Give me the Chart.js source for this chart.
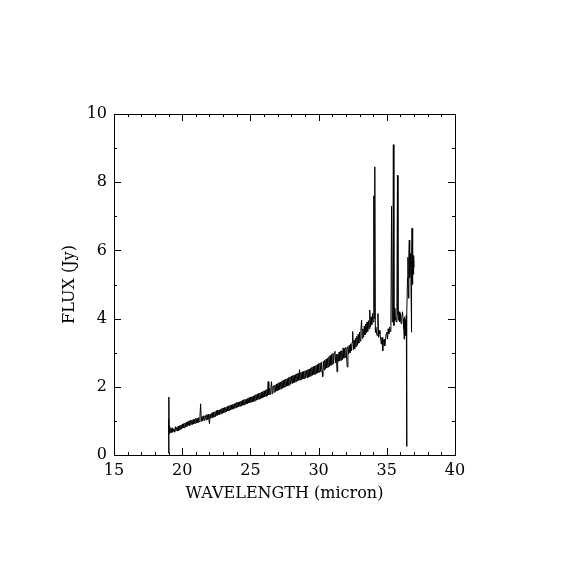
<!DOCTYPE html>
<html>
<head>
<meta charset="UTF-8">
<title>Spectrum</title>
<script src="https://cdn.jsdelivr.net/npm/chart.js"></script>
<style>
  body { margin: 0; background: #fff; }
  canvas { display: block; }
</style>
</head>
<body>
<canvas id="spec" width="570" height="570"></canvas>
<script>
// wavelength (micron) and flux (Jy)
const wavelength = [
  19.00, 19.01, 19.03, 19.05, 19.08, 19.12, 19.16,
  19.20, 19.25, 19.30, 19.35, 19.40, 19.45, 19.50, 19.55, 19.60, 19.65,
  19.70, 19.75, 19.80, 19.85, 19.90, 19.95, 20.00, 20.05, 20.10, 20.15,
  20.20, 20.25, 20.30, 20.35, 20.40, 20.45, 20.50, 20.55, 20.60, 20.65,
  20.70, 20.75, 20.80, 20.85, 20.90, 20.95, 21.00, 21.05, 21.10, 21.15,
  21.20, 21.25, 21.30, 21.35, 21.40, 21.45, 21.50, 21.55, 21.60, 21.65,
  21.70, 21.75, 21.80, 21.85, 21.90, 21.95, 22.00, 22.05, 22.10, 22.15,
  22.20, 22.25, 22.30, 22.35, 22.40, 22.45, 22.50, 22.55, 22.60, 22.65,
  22.70, 22.75, 22.80, 22.85, 22.90, 22.95, 23.00, 23.05, 23.10, 23.15,
  23.20, 23.25, 23.30, 23.35, 23.40, 23.45, 23.50, 23.55, 23.60, 23.65,
  23.70, 23.75, 23.80, 23.85, 23.90, 23.95, 24.00, 24.05, 24.10, 24.15,
  24.20, 24.25, 24.30, 24.35, 24.40, 24.45, 24.50, 24.55, 24.60, 24.65,
  24.70, 24.75, 24.80, 24.85, 24.90, 24.95, 25.00, 25.05, 25.10, 25.15,
  25.20, 25.25, 25.30, 25.35, 25.40, 25.45, 25.50, 25.55, 25.60, 25.65,
  25.70, 25.75, 25.80, 25.85, 25.90, 25.95, 26.00, 26.05, 26.10, 26.15,
  26.20, 26.25, 26.30, 26.35, 26.40, 26.45, 26.50, 26.55, 26.60, 26.65,
  26.70, 26.75, 26.80, 26.85, 26.90, 26.95, 27.00, 27.05, 27.10, 27.15,
  27.20, 27.25, 27.30, 27.35, 27.40, 27.45, 27.50, 27.55, 27.60, 27.65,
  27.70, 27.75, 27.80, 27.85, 27.90, 27.95, 28.00, 28.05, 28.10, 28.15,
  28.20, 28.25, 28.30, 28.35, 28.40, 28.45, 28.50, 28.55, 28.60, 28.65,
  28.70, 28.75, 28.80, 28.85, 28.90, 28.95, 29.00, 29.05, 29.10, 29.15,
  29.20, 29.25, 29.30, 29.35, 29.40, 29.45, 29.50, 29.55, 29.60, 29.65,
  29.70, 29.75, 29.80, 29.85, 29.90, 29.95, 30.00, 30.05, 30.10, 30.15,
  30.20, 30.25, 30.30, 30.35, 30.40, 30.45, 30.50, 30.55, 30.60, 30.65,
  30.70, 30.75, 30.80, 30.85, 30.90, 30.95, 31.00, 31.05, 31.10, 31.15,
  31.20, 31.25, 31.30, 31.35, 31.40, 31.45, 31.50, 31.55, 31.60, 31.65,
  31.70, 31.75, 31.80, 31.85, 31.90, 31.95, 32.00, 32.05, 32.10, 32.15,
  32.20, 32.25, 32.30, 32.35, 32.40, 32.45, 32.50, 32.55, 32.60, 32.65,
  32.70, 32.75, 32.80, 32.85, 32.90, 32.95, 33.00, 33.05, 33.10, 33.15,
  33.20, 33.25, 33.30, 33.35, 33.40, 33.45, 33.50, 33.55, 33.60, 33.65,
  33.70, 33.75, 33.80, 33.85, 33.90, 33.95, 34.00,
  34.05, 34.08, 34.12, 34.16, 34.20, 34.25, 34.30, 34.35, 34.40, 34.45,
  34.50, 34.55, 34.60, 34.65, 34.70, 34.75, 34.80, 34.85, 34.90, 34.95,
  35.00, 35.05, 35.10, 35.15, 35.20, 35.25, 35.30, 35.35, 35.40, 35.44,
  35.48, 35.52, 35.56, 35.60, 35.65, 35.70, 35.74, 35.78, 35.82, 35.86,
  35.90, 35.95, 36.00, 36.05, 36.10, 36.15, 36.20, 36.25, 36.27, 36.30,
  36.35, 36.40, 36.43, 36.45, 36.48, 36.52, 36.55, 36.58, 36.62, 36.65,
  36.68, 36.72, 36.75, 36.78, 36.80, 36.83, 36.85, 36.88, 36.91, 36.94,
  36.97, 37.00
];
const flux = [
  1.05, 0.05, 1.70, 0.62, 0.85, 0.66, 0.78,
  0.78, 0.66, 0.80, 0.69, 0.76, 0.67, 0.83, 0.72, 0.81, 0.70,
  0.84, 0.72, 0.86, 0.75, 0.88, 0.76, 0.90, 0.79, 0.92, 0.80,
  0.94, 0.82, 0.96, 0.84, 0.98, 0.87, 1.00, 0.86, 1.02, 0.90,
  1.02, 0.89, 1.04, 0.91, 1.05, 0.93, 1.08, 0.94, 1.07, 0.95,
  1.10, 0.97, 1.12, 1.50, 0.99, 1.13, 1.00, 1.15, 1.01, 1.14,
  1.16, 1.03, 1.18, 1.04, 1.20, 1.06, 0.92, 1.19, 1.08, 1.22,
  1.24, 1.10, 1.26, 1.12, 1.27, 1.13, 1.30, 1.16, 1.31, 1.18,
  1.32, 1.19, 1.34, 1.21, 1.36, 1.22, 1.38, 1.24, 1.39, 1.26,
  1.40, 1.27, 1.42, 1.29, 1.44, 1.31, 1.46, 1.32, 1.47, 1.34,
  1.48, 1.35, 1.50, 1.37, 1.52, 1.39, 1.54, 1.40, 1.55, 1.42,
  1.56, 1.43, 1.58, 1.44, 1.60, 1.46, 1.62, 1.47, 1.63, 1.49,
  1.64, 1.50, 1.66, 1.52, 1.68, 1.53, 1.70, 1.55, 1.71, 1.56,
  1.73, 1.57, 1.75, 1.59, 1.77, 1.61, 1.79, 1.63, 1.81, 1.64,
  1.82, 1.65, 1.84, 1.67, 1.86, 1.69, 1.88, 1.71, 1.90, 1.72,
  1.92, 1.74, 2.15, 1.76, 1.96, 1.78, 1.98, 2.15, 1.80, 2.00,
  2.03, 1.84, 2.05, 1.86, 2.08, 1.88, 2.10, 1.90, 2.12, 1.92,
  2.14, 1.94, 2.16, 1.96, 2.19, 1.98, 2.21, 2.00, 2.23, 2.02,
  2.24, 2.03, 2.27, 2.05, 2.29, 2.08, 2.31, 2.10, 2.33, 2.12,
  2.34, 2.13, 2.36, 2.15, 2.38, 2.17, 2.40, 2.19, 2.50, 2.20,
  2.42, 2.21, 2.44, 2.23, 2.45, 2.24, 2.47, 2.26, 2.48, 2.27,
  2.50, 2.28, 2.52, 2.30, 2.54, 2.32, 2.57, 2.34, 2.59, 2.36,
  2.60, 2.37, 2.63, 2.39, 2.65, 2.41, 2.68, 2.43, 2.70, 2.45,
  2.72, 2.46, 2.30, 2.75, 2.49, 2.78, 2.52, 2.81, 2.55, 2.84,
  2.58, 2.88, 2.60, 2.92, 2.63, 2.95, 2.66, 2.98, 2.68, 3.00,
  3.04, 2.70, 2.95, 2.44, 2.96, 2.74, 3.02, 2.76, 3.05, 2.78,
  3.06, 2.80, 3.14, 2.84, 3.12, 2.86, 3.16, 2.90, 2.58, 3.18,
  2.96, 3.22, 3.00, 3.26, 3.05, 3.30, 3.62, 3.08, 3.36, 3.12,
  3.42, 3.18, 3.48, 3.22, 3.54, 3.28, 3.60, 3.34, 3.66, 3.96,
  3.42, 3.70, 3.46, 3.78, 3.52, 3.84, 3.58, 3.90, 3.62, 3.94,
  3.70, 4.25, 3.75, 4.05, 3.82, 4.15, 3.90,
  7.60, 4.00, 8.45, 3.60, 3.75, 3.55, 3.50, 4.15, 3.45, 3.65,
  3.55, 3.40, 3.25, 3.45, 3.05, 3.30, 3.40, 3.20, 3.35, 3.55,
  3.60, 3.40, 3.70, 3.55, 3.75, 3.62, 3.80, 7.30, 3.90, 4.10,
  9.10, 3.80, 4.30, 3.95, 4.05, 3.90, 4.25, 8.20, 4.10, 3.95,
  4.20, 3.90, 4.15, 3.85, 4.05, 4.20, 4.00, 3.70, 3.40, 4.05,
  3.95, 3.50, 4.10, 0.25, 4.20, 5.20, 5.80, 4.60, 5.90, 6.30,
  5.20, 5.90, 5.60, 4.75, 3.60, 5.70, 6.65, 5.00, 5.80, 5.30,
  5.85, 5.50
];
const xTicks = [15, 20, 25, 30, 35, 40];
const yTicks = [0, 2, 4, 6, 8, 10];

const points = wavelength.map((w, i) => ({ x: w, y: flux[i] }));
const FONT = "'DejaVu Serif', serif";

// frame with inward ticks on all four sides, placed through the scales
const framePlugin = {
  id: 'frame',
  afterDraw(chart) {
    const { ctx, chartArea: a, scales: { x, y } } = chart;
    ctx.save();
    ctx.strokeStyle = '#000';
    ctx.lineWidth = 1;
    ctx.strokeRect(a.left + 0.5, a.top + 0.5, a.right - a.left, a.bottom - a.top);
    ctx.beginPath();
    for (let v = x.min; v <= x.max; v++) {
      const px = Math.round(x.getPixelForValue(v)) + 0.5;
      const len = xTicks.includes(v) ? 7 : 3;
      ctx.moveTo(px, a.bottom); ctx.lineTo(px, a.bottom - len);
      ctx.moveTo(px, a.top); ctx.lineTo(px, a.top + len);
    }
    for (let v = y.min; v <= y.max; v++) {
      const py = Math.round(y.getPixelForValue(v)) + 0.5;
      const len = yTicks.includes(v) ? 7 : 3;
      ctx.moveTo(a.left, py); ctx.lineTo(a.left + len, py);
      ctx.moveTo(a.right, py); ctx.lineTo(a.right - len, py);
    }
    ctx.stroke();
    ctx.restore();
  }
};

new Chart(document.getElementById('spec'), {
  type: 'line',
  data: {
    datasets: [{
      data: points,
      borderColor: '#000',
      borderWidth: 1,
      pointRadius: 0,
      tension: 0,
      fill: false
    }]
  },
  options: {
    responsive: false,
    animation: false,
    devicePixelRatio: 1,
    layout: { padding: { left: 55, top: 114, right: 115, bottom: 57 } },
    plugins: { legend: { display: false }, tooltip: { enabled: false } },
    scales: {
      x: {
        type: 'linear',
        min: 15, max: 40,
        afterFit(s) { s.height = 58; },
        afterBuildTicks(s) { s.ticks = xTicks.map(v => ({ value: v })); },
        grid: { display: false, drawTicks: false },
        border: { display: false },
        ticks: { color: '#000', font: { family: FONT, size: 16 }, padding: 6, maxRotation: 0 },
        title: { display: true, text: 'WAVELENGTH (micron)', color: '#000',
                 font: { family: FONT, size: 16 }, padding: { top: 0, bottom: 10 } }
      },
      y: {
        type: 'linear',
        min: 0, max: 10,
        afterFit(s) { s.width = 59; },
        afterBuildTicks(s) { s.ticks = yTicks.map(v => ({ value: v })); },
        grid: { display: false, drawTicks: false },
        border: { display: false },
        ticks: { color: '#000', font: { family: FONT, size: 16 }, padding: 7 },
        title: { display: true, text: 'FLUX (Jy)', color: '#000',
                 font: { family: FONT, size: 16 }, padding: { top: 5, bottom: 0 } }
      }
    }
  },
  plugins: [framePlugin]
});
</script>
</body>
</html>
